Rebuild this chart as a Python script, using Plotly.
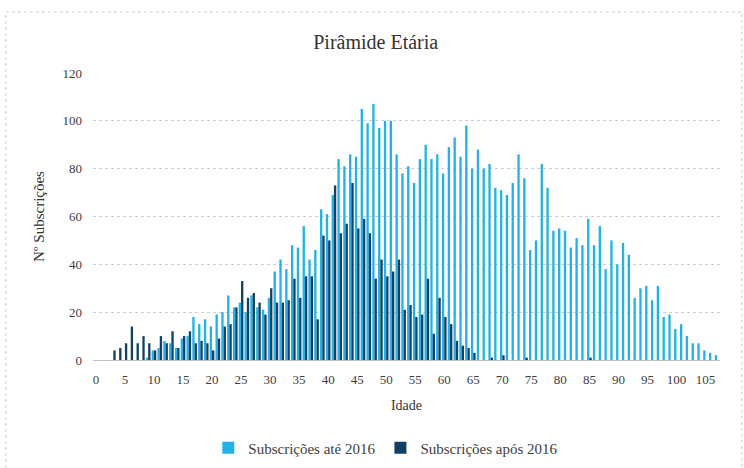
import plotly.graph_objects as go

ages = list(range(0, 108))

ate_2016 = [0, 0, 0, 0, 0, 0, 0, 0, 0, 1,
            4, 5, 8, 7, 5, 9, 10, 18, 15, 17,
            14, 19, 20, 27, 22, 24, 20, 27, 22, 21,
            26, 37, 42, 38, 48, 47, 56, 42, 46, 63,
            61, 69, 84, 81, 86, 85, 105, 99, 107, 97,
            100, 100, 86, 78, 81, 74, 84, 90, 84, 86,
            78, 89, 93, 85, 98, 80, 88, 80, 82, 72,
            71, 69, 74, 86, 76, 46, 50, 82, 72, 54,
            55, 54, 47, 51, 48, 59, 48, 56, 38, 50,
            40, 49, 44, 26, 30, 31, 25, 31, 18, 19,
            13, 15, 10, 7, 7, 4, 3, 2]

apos_2016 = [0, 0, 0, 4, 5, 7, 14, 7, 10, 7,
             4, 10, 7, 12, 5, 10, 12, 7, 8, 7,
             4, 9, 14, 15, 22, 33, 26, 28, 24, 19,
             30, 24, 24, 25, 34, 26, 35, 35, 17, 52,
             50, 73, 53, 57, 74, 55, 59, 53, 34, 42,
             35, 37, 42, 21, 23, 18, 19, 34, 11, 26,
             18, 15, 8, 6, 5, 3, 0, 0, 1, 0,
             2, 0, 0, 0, 1, 0, 0, 0, 0, 0,
             0, 0, 0, 0, 0, 1, 0, 0, 0, 0,
             0, 0, 0, 0, 0, 0, 0, 0, 0, 0,
             0, 0, 0, 0, 0, 0, 0, 0]

x_ticks = list(range(0, 110, 5))
y_ticks = list(range(0, 140, 20))

serif = "'Liberation Serif', 'DejaVu Serif', serif"

fig = go.Figure()
fig.add_trace(go.Bar(x=ages, y=ate_2016, name="Subscrições até 2016",
                     marker=dict(color="#22b2e6", line=dict(width=0))))
fig.add_trace(go.Bar(x=ages, y=apos_2016, name="Subscrições após 2016",
                     marker=dict(color="#123f66", line=dict(width=0))))

fig.update_layout(
    width=744, height=468,
    margin=dict(l=93, r=24, t=73, b=108, autoexpand=False),
    paper_bgcolor="white", plot_bgcolor="white",
    barmode="group", bargap=0.2, bargroupgap=0.0,
    font=dict(family=serif, size=13, color="#404040"),
    title=dict(text="Pirâmide Etária", x=0.505, xref="container", xanchor="center",
               y=1 - 42 / 468, yref="container", yanchor="middle",
               font=dict(family=serif, size=20, color="#333333")),
    xaxis=dict(range=[-0.5, 107.5], tickmode="array", tickvals=x_ticks,
               ticktext=[str(v) for v in x_ticks], showgrid=False,
               showline=True, linecolor="#bfbfbf", linewidth=1, ticks="",
               zeroline=False, ticklabelstandoff=7, automargin=False,
               tickfont=dict(family=serif, size=13, color="#404040"),
               title=dict(text="Idade", standoff=14,
                          font=dict(family=serif, size=14, color="#333333"))),
    yaxis=dict(range=[0, 120], tickmode="array", tickvals=y_ticks,
               showgrid=True, gridcolor="#c5d0dc", griddash="dot", gridwidth=1,
               zeroline=False, showline=False, ticks="",
               ticklabelstandoff=10, automargin=False,
               tickfont=dict(family=serif, size=13, color="#404040"),
               title=dict(text="Nº Subscrições", standoff=14,
                          font=dict(family=serif, size=15, color="#333333"))),
    legend=dict(orientation="h", x=0.467, xanchor="center", y=-0.307, yanchor="middle",
                font=dict(family=serif, size=15, color="#404040"),
                itemwidth=30, traceorder="normal"),
    shapes=[dict(type="rect", xref="paper", yref="paper",
                 x0=-0.139, x1=1.035, y0=-0.40, y1=1.2125,
                 line=dict(color="#c8cdd4", width=1, dash="dot"),
                 fillcolor="rgba(0,0,0,0)", layer="below")],
)

fig.write_html("out.html", config={"displayModeBar": False},
               post_script="document.body.style.margin='0';")
